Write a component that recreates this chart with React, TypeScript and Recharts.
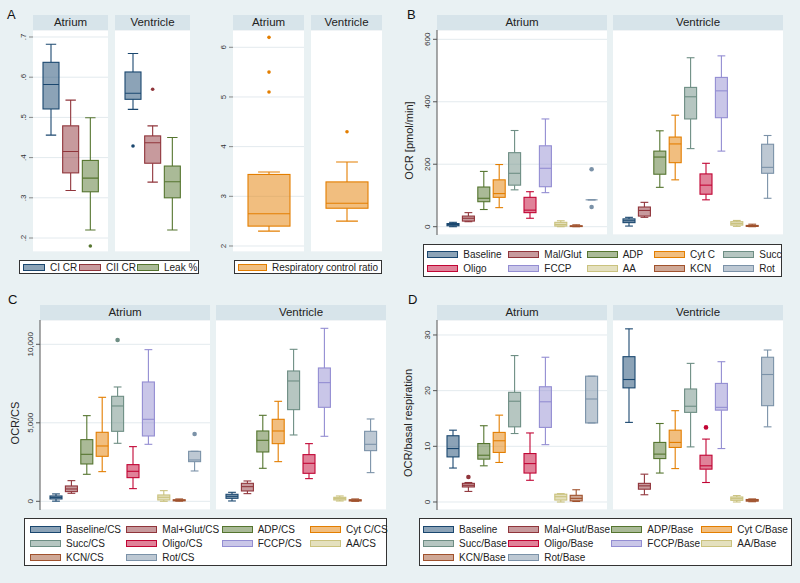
import React from 'react'
import { ComposedChart, Bar, XAxis, YAxis, CartesianGrid } from 'recharts'

// stata s2color palette
const COLORS = ['#1a476f', '#90353b', '#55752f', '#e37e00', '#6e8e84', '#c10534', '#938dd2', '#cac27e', '#a0522d', '#7b92a8']
const BG = '#e9f1f3'
const STRIP = '#d7e4ea'
const GRID = '#e3eaee'
const AXIS = '#555'
const FONT = '"Liberation Sans", Arial, sans-serif'

const regions = ['Atrium', 'Ventricle']

// box stats are [min, q1, median, q3, max]

// A: coupling ratios
const ratioNames = ['CI CR', 'CII CR', 'Leak %']
const ratioAtrium = [
  [0.456, 0.521, 0.582, 0.637, 0.682],
  [0.318, 0.362, 0.415, 0.479, 0.543],
  [0.22, 0.315, 0.349, 0.393, 0.499],
]
const ratioAtriumOut = [[], [], [0.18]]
const ratioVentricle = [
  [0.52, 0.545, 0.56, 0.613, 0.659],
  [0.339, 0.386, 0.437, 0.454, 0.479],
  [0.22, 0.3, 0.34, 0.379, 0.45],
]
const ratioVentricleOut = [[0.429], [0.57], []]
const ratioTicks = [0.2, 0.3, 0.4, 0.5, 0.6, 0.7]

// A: respiratory control ratio
const rcrNames = ['Respiratory control ratio']
const rcrAtrium = [[2.3, 2.4, 2.65, 3.44, 3.49]]
const rcrAtriumOut = [[6.2, 5.5, 5.1]]
const rcrVentricle = [[2.5, 2.76, 2.86, 3.29, 3.69]]
const rcrVentricleOut = [[4.3]]
const rcrTicks = [2, 3, 4, 5, 6]

// B: OCR
const ocrNames = ['Baseline', 'Mal/Glut', 'ADP', 'Cyt C', 'Succ', 'Oligo', 'FCCP', 'AA', 'KCN', 'Rot']
const ocrAtrium = [
  [0, 3, 7, 10, 14],
  [16, 18, 27, 34, 45],
  [55, 80, 91, 127, 177],
  [61, 94, 106, 150, 199],
  [118, 133, 171, 237, 308],
  [27, 45, 53, 94, 112],
  [109, 128, 187, 259, 345],
  [0, 2, 7, 14, 19],
  [0, 0.5, 1.5, 3, 6],
  [86, 86, 86, 86, 86],
]
const ocrAtriumOut = [[], [], [], [], [], [], [], [], [], [184, 63]]
const ocrVentricle = [
  [2, 13, 19, 25, 30],
  [30, 34, 52, 63, 78],
  [126, 168, 223, 242, 307],
  [150, 205, 265, 287, 357],
  [250, 345, 416, 446, 541],
  [86, 104, 133, 169, 203],
  [242, 349, 435, 478, 547],
  [1, 5, 10, 16, 20],
  [0, 1, 2, 4, 8],
  [91, 171, 190, 264, 292],
]
const ocrVentricleOut = [[], [], [], [], [], [], [], [], [], []]
const ocrTicks = [0, 200, 400, 600]

// C: OCR / citrate synthase
const csNames = ['Baseline/CS', 'Mal+Glut/CS', 'ADP/CS', 'Cyt C/CS', 'Succ/CS', 'Oligo/CS', 'FCCP/CS', 'AA/CS', 'KCN/CS', 'Rot/CS']
const csAtrium = [
  [10, 150, 250, 340, 470],
  [510, 616, 786, 977, 1316],
  [1720, 2378, 2993, 3928, 5456],
  [1889, 2866, 3524, 4395, 6624],
  [3694, 4458, 6072, 6687, 7282],
  [807, 1507, 1911, 2335, 3482],
  [3630, 4161, 5223, 7600, 9660],
  [0, 85, 255, 403, 679],
  [10, 30, 60, 100, 150],
  [1932, 2526, 2633, 3184, 3184],
]
const csAtriumOut = [[], [], [], [], [10275], [], [], [], [], [4288]]
const csVentricle = [
  [21, 191, 318, 446, 573],
  [488, 658, 934, 1146, 1295],
  [2102, 3142, 3885, 4479, 5477],
  [2526, 3673, 4479, 5223, 6369],
  [4225, 5838, 7664, 8301, 9681],
  [1444, 1783, 2420, 2972, 3673],
  [4140, 5987, 7558, 8492, 11018],
  [21, 85, 170, 255, 340],
  [0, 20, 60, 100, 150],
  [1826, 3227, 3630, 4458, 5244],
]
const csVentricleOut = [[], [], [], [], [], [], [], [], [], []]
const csTicks = [0, 5000, 10000]

// D: OCR / basal respiration
const baseNames = ['Baseline', 'Mal+Glut/Base', 'ADP/Base', 'Cyt C/Base', 'Succ/Base', 'Oligo/Base', 'FCCP/Base', 'AA/Base', 'KCN/Base', 'Rot/Base']
const baseAtrium = [
  [6.1, 8.1, 9.6, 11.9, 12.9],
  [1.9, 2.7, 3.0, 3.35, 3.5],
  [6.5, 7.7, 8.4, 10.5, 13.7],
  [7.1, 8.9, 11.0, 12.5, 15.6],
  [12.3, 13.5, 18.1, 19.7, 26.3],
  [3.9, 5.2, 6.9, 8.7, 12.4],
  [10.3, 13.4, 18.0, 20.7, 26.0],
  [0, 0.35, 0.95, 1.4, 1.5],
  [0.1, 0.2, 0.65, 1.2, 2.2],
  [14.2, 14.2, 18.5, 22.6, 22.6],
]
const baseAtriumOut = [[], [4.5], [], [], [], [], [], [], [], []]
const baseVentricle = [
  [14.3, 20.5, 22.0, 26.1, 31.1],
  [1.3, 2.3, 2.9, 3.35, 5.0],
  [5.2, 7.8, 8.6, 10.7, 14.1],
  [6.0, 9.8, 10.7, 12.9, 16.4],
  [9.9, 16.1, 17.2, 20.3, 24.9],
  [3.5, 5.9, 6.5, 8.4, 11.3],
  [9.6, 16.5, 17.0, 21.3, 25.2],
  [0, 0.3, 0.6, 0.9, 1.15],
  [0.05, 0.15, 0.3, 0.45, 0.55],
  [13.5, 17.3, 22.9, 26.0, 27.3],
]
const baseVentricleOut = [[], [], [], [], [], [13.4], [], [], [], []]
const baseTicks = [0, 10, 20, 30]

const makeRows = (names: string[], stats: number[][], outs: number[][]) =>
  names.map((name, i) => {
    const [min, q1, med, q3, max] = stats[i]
    const out = outs[i] || []
    return { name, min, q1, med, q3, max, out, lo: Math.min(min, ...out), hi: Math.max(max, ...out) }
  })

const withAlpha = (hex: string, a: number) => {
  const n = parseInt(hex.slice(1), 16)
  return `rgba(${(n >> 16) & 255},${(n >> 8) & 255},${n & 255},${a})`
}

function BoxShape(props: any) {
  const { x, y, width, height, payload, index, colors, capFrac, dotR } = props
  if (!payload) return null
  const c = colors[index % colors.length]
  const top = Math.min(y, y + height)
  const bot = Math.max(y, y + height)
  const span = payload.hi - payload.lo
  const py = (v: number) => (span === 0 ? top : top + ((payload.hi - v) / span) * (bot - top))
  const cx = x + width / 2
  const cap = width * capFrac
  const sw = 1.1
  return (
    <g>
      <line x1={cx} x2={cx} y1={py(payload.max)} y2={py(payload.q3)} stroke={c} strokeWidth={sw} />
      <line x1={cx} x2={cx} y1={py(payload.q1)} y2={py(payload.min)} stroke={c} strokeWidth={sw} />
      <line x1={cx - cap / 2} x2={cx + cap / 2} y1={py(payload.max)} y2={py(payload.max)} stroke={c} strokeWidth={sw} />
      <line x1={cx - cap / 2} x2={cx + cap / 2} y1={py(payload.min)} y2={py(payload.min)} stroke={c} strokeWidth={sw} />
      <rect x={x} y={py(payload.q3)} width={width} height={Math.max(0, py(payload.q1) - py(payload.q3))}
        fill={c} fillOpacity={0.5} stroke={c} strokeWidth={sw} />
      <line x1={x} x2={x + width} y1={py(payload.med)} y2={py(payload.med)} stroke={c} strokeWidth={sw} />
      {payload.out.map((v: number, k: number) => (
        <circle key={k} cx={cx} cy={py(v)} r={dotR} fill={c} />
      ))}
    </g>
  )
}

function RotTick(props: any) {
  const { x, y, payload, fmt } = props
  return (
    <text x={x} y={y} transform={`rotate(-90 ${x} ${y})`} textAnchor="middle" fontSize={8} fill="#333" fontFamily={FONT}>
      {fmt(payload.value)}
    </text>
  )
}

function AxisTitle(props: any) {
  const { viewBox, text, dx, dy } = props
  const tx = viewBox.x + dx
  const ty = viewBox.y + viewBox.height / 2 + dy
  return (
    <text x={tx} y={ty} transform={`rotate(-90 ${tx} ${ty})`} textAnchor="middle" fontSize={11} fill="#222" fontFamily={FONT}>
      {text}
    </text>
  )
}

type SubProps = {
  left: number
  top: number
  plotW: number
  plotH: number
  axisW: number
  region: string
  rows: any[]
  colors: string[]
  domain: [number, number]
  ticks: number[]
  fmt: (v: number) => string
  showAxis: boolean
  axisLines: boolean
  barSize: number
  capFrac: number
  dotR: number
  yTitle?: string
  titleDx?: number
}

function SubPlot(p: SubProps) {
  const aw = p.showAxis ? p.axisW : 0
  return (
    <div style={{ position: 'absolute', left: p.left - aw, top: p.top - 15 }}>
      <div style={{ marginLeft: aw, width: p.plotW, height: 15, lineHeight: '15px', background: STRIP, textAlign: 'center', fontSize: 11.5, color: '#222', fontFamily: FONT }}>
        {p.region}
      </div>
      <ComposedChart width={p.plotW + aw} height={p.plotH} data={p.rows} margin={{ top: 0, right: 0, bottom: 0, left: 0 }}>
        <CartesianGrid vertical={false} stroke={GRID} fill="#fff" />
        <XAxis dataKey="name" type="category" tick={false} tickLine={false} height={0}
          axisLine={p.axisLines ? { stroke: AXIS } : false} padding={{ left: 8, right: 8 }} />
        <YAxis type="number" domain={p.domain} ticks={p.ticks} allowDataOverflow width={aw} interval={0}
          tick={p.showAxis ? <RotTick fmt={p.fmt} /> : false}
          tickLine={p.showAxis ? { stroke: p.axisLines ? AXIS : '#888' } : false}
          tickSize={4} tickMargin={3}
          axisLine={p.axisLines ? { stroke: AXIS } : false}
          label={p.yTitle ? <AxisTitle text={p.yTitle} dx={p.titleDx ?? 13} dy={8} /> : undefined} />
        <Bar dataKey={(d: any) => [d.lo, d.hi]} barSize={p.barSize} isAnimationActive={false}
          shape={(s: any) => <BoxShape {...s} colors={p.colors} capFrac={p.capFrac} dotR={p.dotR} />} />
      </ComposedChart>
    </div>
  )
}

type LegendProps = {
  x: number
  y: number
  w: number
  h: number
  names: string[]
  colors: string[]
  colX: number[]
  rowY: number[]
  swW?: number
  gap?: number
}

function LegendBox({ x, y, w, h, names, colors, colX, rowY, swW = 31, gap = 36 }: LegendProps) {
  const nc = colX.length
  return (
    <div style={{ position: 'absolute', left: x, top: y, width: w, height: h, background: '#fff', border: '1px solid #333', boxSizing: 'border-box', fontFamily: FONT, fontSize: 10, color: '#222' }}>
      {names.map((n, i) => {
        const cx = colX[i % nc]
        const cy = rowY[Math.floor(i / nc)]
        const c = colors[i % colors.length]
        return (
          <React.Fragment key={n}>
            <div style={{ position: 'absolute', left: cx - gap - 1, top: cy - 4.5, width: swW, height: 7, background: withAlpha(c, 0.5), border: `1.3px solid ${c}`, boxSizing: 'border-box' }} />
            <div style={{ position: 'absolute', left: cx - 1, top: cy - 7, lineHeight: '13px', whiteSpace: 'nowrap' }}>{n}</div>
          </React.Fragment>
        )
      })}
    </div>
  )
}

const fmtRatio = (v: number) => v.toFixed(1).replace(/^0/, '')
const fmtInt = (v: number) => v.toLocaleString('en-US')

const letter = (t: string, x: number, y: number) => (
  <div style={{ position: 'absolute', left: x, top: y, fontSize: 13, lineHeight: '13px', fontFamily: FONT, color: '#111' }}>{t}</div>
)

export default function App() {
  const ratioRows = [makeRows(ratioNames, ratioAtrium, ratioAtriumOut), makeRows(ratioNames, ratioVentricle, ratioVentricleOut)]
  const rcrRows = [makeRows(rcrNames, rcrAtrium, rcrAtriumOut), makeRows(rcrNames, rcrVentricle, rcrVentricleOut)]
  const ocrRows = [makeRows(ocrNames, ocrAtrium, ocrAtriumOut), makeRows(ocrNames, ocrVentricle, ocrVentricleOut)]
  const csRows = [makeRows(csNames, csAtrium, csAtriumOut), makeRows(csNames, csVentricle, csVentricleOut)]
  const baseRows = [makeRows(baseNames, baseAtrium, baseAtriumOut), makeRows(baseNames, baseVentricle, baseVentricleOut)]

  const panelsA = [33, 115].map((px, i) => (
    <SubPlot key={'a' + i} left={px} top={30} plotW={75} plotH={222} axisW={33} region={regions[i]} rows={ratioRows[i]}
      colors={COLORS.slice(0, 3)} domain={[0.1652, 0.7174]} ticks={ratioTicks} fmt={fmtRatio} showAxis={i === 0}
      axisLines={false} barSize={16} capFrac={0.65} dotR={1.8} />
  ))
  const panelsR = [233, 311].map((px, i) => (
    <SubPlot key={'r' + i} left={px} top={30} plotW={71} plotH={222} axisW={33} region={regions[i]} rows={rcrRows[i]}
      colors={[COLORS[3]]} domain={[1.879, 6.348]} ticks={rcrTicks} fmt={fmtInt} showAxis={i === 0}
      axisLines={false} barSize={42} capFrac={0.52} dotR={1.8} />
  ))
  const panelsB = [437, 613].map((px, i) => (
    <SubPlot key={'b' + i} left={px} top={30} plotW={170} plotH={205} axisW={37} region={regions[i]} rows={ocrRows[i]}
      colors={COLORS} domain={[-26.6, 629.8]} ticks={ocrTicks} fmt={fmtInt} showAxis={i === 0}
      axisLines barSize={12} capFrac={0.65} dotR={2.3} yTitle="OCR [pmol/min]" titleDx={13} />
  ))
  const panelsC = [40, 216].map((px, i) => (
    <SubPlot key={'c' + i} left={px} top={320} plotW={170} plotH={190} axisW={40} region={regions[i]} rows={csRows[i]}
      colors={COLORS} domain={[-554, 11548]} ticks={csTicks} fmt={fmtInt} showAxis={i === 0}
      axisLines barSize={12} capFrac={0.65} dotR={2.3} yTitle="OCR/CS" titleDx={19} />
  ))
  const panelsD = [437, 613].map((px, i) => (
    <SubPlot key={'d' + i} left={px} top={320} plotW={170} plotH={190} axisW={37} region={regions[i]} rows={baseRows[i]}
      colors={COLORS} domain={[-1.437, 32.69]} ticks={baseTicks} fmt={fmtInt} showAxis={i === 0}
      axisLines barSize={12} capFrac={0.65} dotR={2.3} yTitle="OCR/basal respiration" titleDx={12} />
  ))

  return (
    <div style={{ position: 'absolute', left: 0, top: 0, width: 800, height: 583, background: BG, overflow: 'hidden' }}>
      {letter('A', 7, 7.6)}
      {letter('B', 407, 7.6)}
      {letter('C', 8, 293.3)}
      {letter('D', 408, 293.3)}
      {panelsA}
      {panelsR}
      {panelsB}
      {panelsC}
      {panelsD}
      <LegendBox x={19} y={260} w={180} h={14} names={ratioNames} colors={COLORS.slice(0, 3)}
        colX={[31, 87, 145]} rowY={[7]} swW={22} gap={27} />
      <LegendBox x={234} y={260} w={148} h={14} names={rcrNames} colors={[COLORS[3]]}
        colX={[38]} rowY={[7]} swW={29} gap={34} />
      <LegendBox x={423} y={244} w={359} h={33} names={ocrNames} colors={COLORS}
        colX={[40.3, 121.3, 199.7, 267, 336.3]} rowY={[10.3, 24]} />
      <LegendBox x={24} y={518} w={363} h={48} names={csNames} colors={COLORS}
        colX={[42, 138.3, 233.7, 322]} rowY={[11, 25.3, 39.3]} />
      <LegendBox x={419} y={518} w={373} h={48} names={baseNames} colors={COLORS}
        colX={[40, 125.3, 228.3, 318.3]} rowY={[11, 25.3, 39.3]} />
    </div>
  )
}
